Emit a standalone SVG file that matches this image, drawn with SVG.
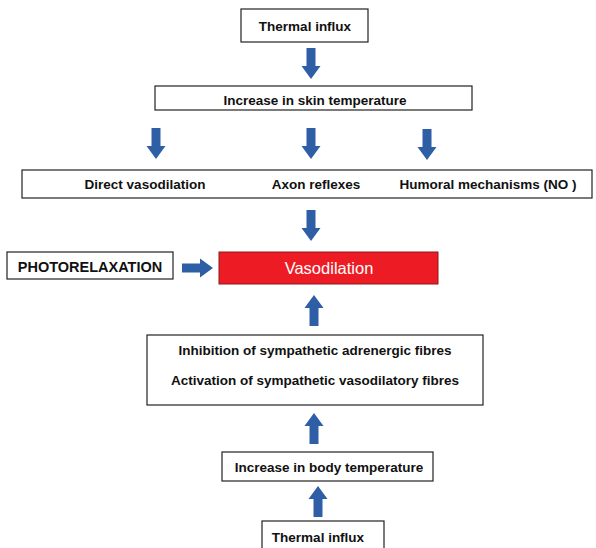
<svg xmlns="http://www.w3.org/2000/svg" width="596" height="548" viewBox="0 0 596 548">
<style>
.box{fill:#fff;stroke:#222;stroke-width:1.2}
.t{font-family:"Liberation Sans",Arial,sans-serif;font-weight:bold;font-size:13.5px;fill:#111;text-anchor:middle}
.arr{fill:#2E5EA6}
</style>
<defs>
<path id="ad" d="M-4.5,0 H4.5 V18 H9.5 L0,31 L-9.5,18 H-4.5 Z"/>
</defs>
<rect width="596" height="548" fill="#fff"/>
<g id="connectors" class="arr">
<use href="#ad" transform="translate(311,48)"/>
<use href="#ad" transform="translate(156,128)"/>
<use href="#ad" transform="translate(311,128)"/>
<use href="#ad" transform="translate(427,129)"/>
<use href="#ad" transform="translate(311,210)"/>
<use href="#ad" transform="translate(182,268) rotate(-90)"/>
<use href="#ad" transform="translate(314,326) rotate(180)"/>
<use href="#ad" transform="translate(314,444) rotate(180)"/>
<use href="#ad" transform="translate(318,517) rotate(180)"/>
</g>
<g id="thermal-top"><rect class="box" x="241" y="9" width="127" height="33"/><text class="t" x="305" y="31">Thermal influx</text></g>
<g id="skin-temp"><rect class="box" x="155" y="86" width="317" height="24"/><text class="t" x="315" y="105">Increase in skin temperature</text></g>
<g id="mechanisms"><rect class="box" x="22" y="170" width="570" height="28"/>
<text class="t" x="145" y="189">Direct vasodilation</text>
<text class="t" x="316" y="189">Axon reflexes</text>
<text class="t" x="488" y="189">Humoral mechanisms (NO )</text></g>
<g id="photorelaxation"><rect class="box" x="7" y="252" width="166" height="27"/><text class="t" x="90" y="272" style="font-size:14.5px">PHOTORELAXATION</text></g>
<g id="vasodilation"><rect x="219" y="252" width="219" height="32" fill="#ED1C24" stroke="#8a1a1a" stroke-width="1"/><text class="t" x="329" y="274" style="font-weight:normal;fill:#fff;font-size:16.5px">Vasodilation</text></g>
<g id="sympathetic"><rect class="box" x="147" y="335" width="336" height="70"/>
<text class="t" x="315" y="355">Inhibition of sympathetic adrenergic fibres</text>
<text class="t" x="315" y="385">Activation of sympathetic vasodilatory fibres</text></g>
<g id="body-temp"><rect class="box" x="222" y="452" width="211" height="29"/><text class="t" x="329" y="472">Increase in body temperature</text></g>
<g id="thermal-bottom"><rect class="box" x="262" y="521" width="122" height="34"/><text class="t" x="318" y="542">Thermal influx</text></g>
</svg>
